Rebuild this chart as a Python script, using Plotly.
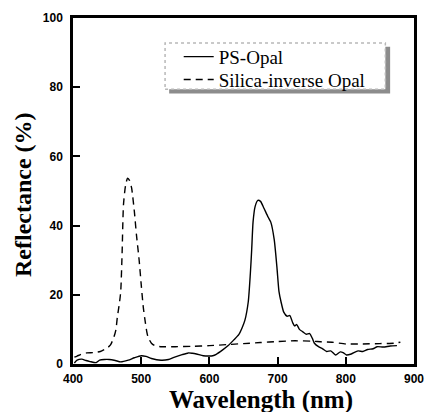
import plotly.graph_objects as go

# Reflectance spectra (wavelength in nm, reflectance in %)
ps_wavelength = [402, 406, 413, 419, 425, 434, 439, 446, 453, 462, 470, 481, 490, 500, 507, 515,
                 529, 540, 548, 560, 569, 575, 581, 591, 600, 605, 610, 619, 628, 636, 643, 648,
                 652, 657, 660, 662, 664, 667, 671, 675, 680, 686, 690, 695, 699, 702, 705, 709,
                 714, 718, 722, 725, 728, 732, 737, 742, 747, 751, 754, 760, 766, 772, 778, 785,
                 792, 796, 801, 808, 818, 825, 832, 840, 846, 855, 865, 875]
ps_reflectance = [0.3, 1.1, 1.4, 1.0, 0.7, 0.4, 1.1, 1.3, 1.3, 1.0, 0.6, 1.1, 1.8, 2.4, 2.2, 1.6,
                  1.1, 1.3, 1.9, 2.7, 3.2, 3.1, 2.9, 2.4, 2.3, 2.4, 2.8, 4.0, 5.4, 7.0, 8.5, 10.5,
                  12.6, 18.0, 26.0, 33.0, 41.0, 45.5, 47.3, 47.0, 45.0, 42.5, 41.0, 36.0, 28.0, 21.0,
                  18.0, 15.0, 13.8, 14.0, 12.0, 11.0, 11.4, 10.0, 9.3, 8.6, 8.8, 7.4, 6.0, 5.0, 4.4,
                  3.6, 3.8, 2.6, 3.5, 3.3, 2.6, 2.9, 3.8, 3.6, 4.2, 4.4, 5.0, 4.9, 5.2, 5.3]

silica_wavelength = [402, 406, 412, 420, 430, 440, 450, 455, 460, 463, 465, 468, 470, 472, 474, 477,
                     480, 483, 486, 490, 493, 497, 500, 503, 505, 508, 510, 515, 520, 530, 550,
                     575, 600, 625, 650, 675, 700, 725, 750, 765, 780, 800, 825, 850, 870, 880]
silica_reflectance = [2.0, 2.3, 2.8, 3.2, 3.3, 3.6, 4.6, 5.5, 7.8, 10.0, 13.5, 17.5, 21.0, 32.0, 46.0,
                      51.5, 53.7, 53.0, 50.8, 44.0, 37.4, 30.0, 23.0, 16.5, 13.5, 9.5, 7.8, 6.0, 5.3,
                      5.0, 5.0, 5.1, 5.3, 5.6, 5.9, 6.2, 6.5, 6.7, 6.6, 6.4, 6.3, 5.8, 5.8, 5.9, 6.0, 6.3]

x_ticks = [400, 500, 600, 700, 800, 900]
y_ticks = [0, 20, 40, 60, 80, 100]

fig = go.Figure()
fig.add_trace(go.Scatter(
    x=ps_wavelength, y=ps_reflectance, mode="lines", name="PS-Opal", legend="legend",
    line=dict(color="black", width=1.4, shape="spline", smoothing=0.6),
))
fig.add_trace(go.Scatter(
    x=silica_wavelength, y=silica_reflectance, mode="lines", name="Silica-inverse Opal",
    legend="legend2",
    line=dict(color="black", width=1.4, dash="7px,5px", shape="spline", smoothing=0.6),
))

axis_common = dict(
    showline=True, linecolor="black", linewidth=2.5, mirror=True,
    ticks="inside", ticklen=7, tickwidth=2, tickcolor="black",
    showgrid=False, zeroline=False,
    tickfont=dict(family="Liberation Sans", size=12, color="black", weight="bold"),
)

legend_common = dict(
    xanchor="left", yanchor="middle",
    bgcolor="rgba(0,0,0,0)", borderwidth=0,
    font=dict(family="Liberation Serif", size=19, color="black"),
)

fig.update_layout(
    width=435, height=412,
    margin=dict(l=73, r=11, t=15, b=48),
    paper_bgcolor="white", plot_bgcolor="white",
    showlegend=True,
    legend=dict(x=0.31, y=0.888, **legend_common),
    legend2=dict(x=0.31, y=0.822, **legend_common),
    xaxis=dict(range=[400, 900], tickvals=x_ticks, ticklabelstandoff=2, **axis_common),
    yaxis=dict(range=[0, 100], tickvals=y_ticks, ticklabelstandoff=5, **axis_common),
    shapes=[
        # legend shadow
        dict(type="rect", xref="paper", yref="paper", x0=0.282, x1=0.93, y0=0.782, y1=0.917,
             fillcolor="#8c8c8c", line=dict(width=0), layer="above"),
        # legend box
        dict(type="rect", xref="paper", yref="paper", x0=0.270, x1=0.916, y0=0.794, y1=0.928,
             fillcolor="white", line=dict(color="#b8b8b8", width=1.5, dash="dot"), layer="above"),
    ],
    annotations=[
        dict(text="<b>Wavelength (nm)</b>", xref="paper", yref="paper", x=0.55, y=-0.103,
             xanchor="center", yanchor="middle", showarrow=False,
             font=dict(family="Liberation Serif", size=25, color="black")),
        dict(text="<b>Reflectance (%)</b>", xref="paper", yref="paper", x=-0.145, y=0.49,
             xanchor="center", yanchor="middle", textangle=-90, showarrow=False,
             font=dict(family="Liberation Serif", size=24, color="black")),
    ],
)

fig.write_html("out.html")
